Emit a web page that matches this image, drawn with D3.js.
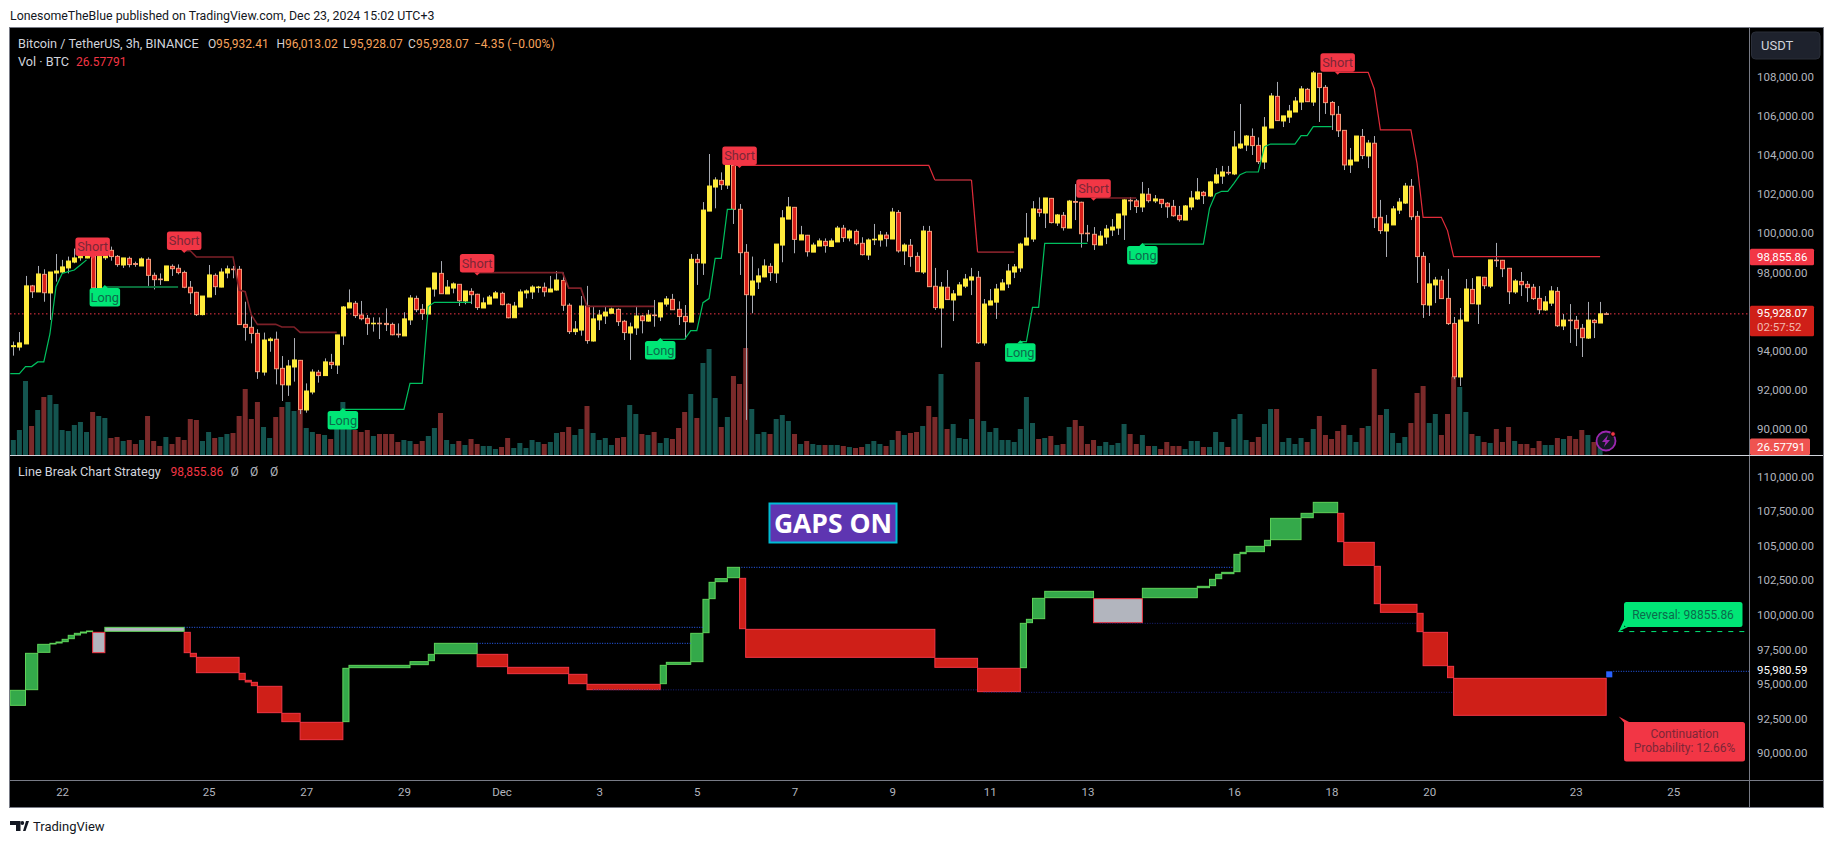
<!DOCTYPE html>
<html>
<head>
<meta charset="utf-8">
<script src="https://cdn.jsdelivr.net/npm/d3@7"></script>
<style>
body { margin: 0; background: #fff; }
svg { display: block; }
text { font-family: Roboto, sans-serif; }
</style>
</head>
<body>
<svg width="1833" height="844"></svg>
<script>
// 3h candles
var open = [
94250,94230,94390,97360,97050,97950,97000,98020,98070,98280,
98580,98800,98790,98890,97250,98800,99180,98870,98430,98770,
98500,98380,98720,97900,97710,97630,98360,98260,98050,97290,
97030,95890,96790,97900,97300,98020,98220,98210,95390,95240,
94930,92950,94560,94630,93140,92290,93210,93550,91010,91930,
92940,92770,93450,93310,94800,96230,96470,95870,95700,95430,
95450,95440,95390,94890,94800,95620,96720,96160,95920,97200,
98000,96950,97250,97440,96590,97080,96930,96230,96430,96740,
96980,96420,95730,96280,97000,97050,97290,97290,97050,97150,
97640,96370,95020,95100,96330,94540,95620,95820,95960,96160,
95550,94950,95210,95820,95560,95870,95770,96430,96670,96160,
95800,95510,98720,98530,101190,102420,102760,102520,103530,101280,
99080,96890,97560,97820,98360,98020,99450,100780,101380,99710,
99950,99090,99400,99640,99380,99610,100310,99810,100150,99540,
98940,99730,99710,99960,99760,101120,99150,99440,98870,98070,
100150,97340,96230,97290,96640,96890,97350,97660,97800,94440,
96380,96530,97150,97460,98070,98280,99450,99760,101280,101090,
101840,100580,100970,100320,101680,101640,100060,100000,99450,99860,
100220,100320,100990,101740,101710,101400,102050,101710,101790,101590,
101430,100970,100730,101400,101810,102150,101960,102630,102980,103170,
103090,104420,104570,105010,104550,103700,105440,107060,105800,106000,
106260,106770,107420,106770,108240,107520,106750,106140,105320,103550,
103750,105010,104010,104660,100870,100170,100480,101240,101600,102460,
100920,98870,96380,97410,97650,96720,95440,92700,95560,97180,
96430,97800,97350,98680,98670,98260,97050,97590,97440,97290,
96720,96130,96480,97080,95310,95610,95600,95190,94690,95600,
95460,95932.41];
var high = [
94510,95000,97870,97410,98380,98210,98070,98990,98690,98860,
99270,99030,99200,99000,98860,98940,99370,98940,98790,98860,
98600,98820,98820,98040,98000,98380,98460,98460,98140,97610,
97060,96840,98430,98000,98260,98400,98380,98380,96550,95870,
95140,94970,94730,95020,93770,93570,94690,93570,92370,93090,
93060,93650,93880,94850,96330,97180,96590,96590,95870,95750,
95750,96210,95480,95440,96010,96890,96860,96430,97250,98020,
98630,97660,97540,97440,97100,97240,96960,96760,96890,97100,
97060,96470,96540,97180,97180,97390,97360,97530,97870,98120,
98040,96470,95560,96840,97360,96330,96130,96330,96250,96210,
95620,95480,96300,95870,96130,96640,96490,96840,96950,96570,
96380,98990,98990,101650,104110,102920,103170,103550,103550,101550,
99500,98860,98260,98720,98520,99500,101240,101910,101400,100430,
99970,99570,99790,99790,99790,100430,100480,100250,100250,99850,
99790,100530,100170,100120,101350,101240,99540,99760,99080,100430,
100430,98280,97560,98170,97150,97560,97970,98280,98120,96690,
97200,97460,97710,98480,98480,99570,101090,101700,101890,101860,
101860,101040,101140,101760,102570,101670,100480,100370,100170,100480,
100780,101040,101790,101910,101810,102680,102370,102010,101810,101650,
101760,101450,101500,102220,102880,102220,102730,103390,103500,103500,
105290,106670,105080,105420,104960,106000,107230,107800,106060,106620,
107030,107590,107490,108360,108260,107640,106820,106570,105320,104420,
105030,105390,104830,105030,101760,100990,101450,101860,102630,102830,
101190,99090,98530,97820,97870,98230,95770,96230,97710,97760,
97820,97820,98690,99560,98690,98280,97710,98070,97610,97460,
97350,96840,97350,97300,95920,96430,95820,95410,96540,95670,
96540,96013.02];
var low = [
93790,94050,94390,96740,97050,96550,95620,97580,98000,98000,
98520,98650,98770,97250,97250,98690,98650,98340,98280,98310,
98340,98380,97360,97180,97410,97630,97870,97950,97240,96430,
95820,95850,96790,96890,97290,97750,97750,95380,94560,94420,
92600,92770,93990,92320,91470,91730,92460,90800,90870,91810,
92410,92770,93110,92850,94340,96230,95720,95600,94850,95020,
94640,95050,94830,94710,94800,95360,96020,95620,95920,96810,
96950,96950,96980,96330,96420,96430,96130,96230,96430,96740,
96370,95700,95730,96280,96720,96690,97010,96810,97050,97120,
96080,94900,94850,94810,94400,94510,95100,95410,95960,95310,
94590,93570,94850,94930,95530,95270,95560,96300,96130,95360,
94630,95510,97410,97920,101190,101330,102270,102320,100530,97920,
90500,95960,97200,97800,97610,97510,98570,100780,99030,99710,
98860,99090,99400,99060,99350,99610,99610,99640,99440,98920,
98690,99450,99370,99370,99760,99060,98430,98340,98070,97970,
97320,96130,94200,96640,95560,96890,97250,96890,94390,94300,
96380,95670,97150,97250,97760,98070,99450,99610,100900,100320,
100560,100430,100190,100320,100730,99320,99620,99200,99450,99500,
99910,99970,99710,101240,101090,101140,101620,101600,101350,100840,
100900,100650,100730,101240,101760,101550,101910,102580,102580,103030,
103030,104370,104260,104060,103600,103340,105440,105800,105490,105700,
106260,106360,106770,106570,105750,106160,105340,104980,103290,103140,
103750,103850,103390,100320,100020,98840,100480,101040,101550,100730,
97510,95720,95820,96480,96690,95360,92590,92240,95560,96430,
95410,97200,97250,98330,97810,96430,96950,96840,96540,96640,
95920,96080,96330,95260,95100,94440,94280,93720,94640,94690,
95460,95928.07];
var close = [
94300,94440,97360,97060,97970,97010,98070,98120,98330,98630,
98790,98860,98940,97250,98860,98890,98860,98450,98790,98450,
98460,98740,97900,97680,97680,98380,98240,98040,97290,97010,
95890,96840,97920,97320,98070,98230,98200,95380,95240,94930,
92970,94590,94640,93120,92300,93260,93570,91030,91980,92950,
92770,93470,93330,94850,96280,96490,95840,95680,95430,95450,
95430,95380,94860,94870,95670,96740,96140,95940,97250,98020,
96960,97300,97460,96600,97100,96910,96250,96490,96790,97000,
96400,95730,96330,97050,97100,97300,97300,97060,97200,97660,
96370,95020,95150,96330,94560,95670,95870,96020,96180,95530,
94970,95260,95820,95580,95870,95840,96490,96690,96140,95790,
95530,98720,98550,101240,102470,102780,102540,103550,101280,99060,
96910,97610,97870,98380,98040,99500,100840,101400,99740,99970,
99110,99450,99660,99420,99660,100320,99830,100170,99520,98960,
99710,99750,99960,99780,101140,99150,99450,98860,98090,100170,
97320,96250,97300,96660,96950,97410,97710,97820,94450,96430,
96590,97200,97510,98120,98330,99500,99810,101300,101110,101860,
100600,100990,100340,101700,101640,100030,100040,99470,99910,100270,
100370,101040,101760,101710,101420,102060,101720,101810,101570,101410,
100950,100750,101450,101860,102170,101980,102680,103040,103190,103140,
104470,104620,105030,104540,103720,105490,107080,105820,106060,106310,
106820,107440,106790,108260,107510,106740,106120,105300,103550,103800,
105030,104030,104670,100850,100190,100530,101300,101650,102470,100900,
98860,96400,97460,97660,96710,95430,92710,95610,97200,96450,
97820,97370,98690,98660,98240,97060,97610,97420,97270,96710,
96140,96540,97100,95320,95610,95590,95170,94710,95610,95480,
95930,95928.07];
var volume = [
1125,1875,5550,2175,3375,4350,4500,3825,1875,1800,
2250,2475,1725,3225,2925,2775,1275,1350,1050,1125,
825,1125,2925,1050,675,1350,825,1350,1125,2700,
2625,1050,1725,1275,1350,1575,1650,2925,4950,2700,
3975,2100,1275,2850,3600,3975,3300,3375,2025,1725,
1575,1500,1200,1950,3975,2025,1875,1725,1875,1425,
1575,1575,1575,975,1125,1050,825,1050,1425,2025,
3150,1125,825,1050,750,1200,825,675,675,450,
600,1275,525,900,525,1125,975,825,975,1650,
1725,2100,1500,1950,3675,1650,1125,1275,750,1275,
1350,3750,3075,1575,1500,1725,900,1275,1200,2025,
3225,4575,2775,6900,7950,4275,2100,2850,5925,5325,
8025,3450,1575,1725,1575,2700,3000,2550,1575,825,
1050,825,750,750,750,750,675,600,525,600,
825,1050,825,675,1125,1800,1500,1650,1725,2175,
3675,2850,6075,1950,2325,1275,1200,2700,6975,2550,
1725,2025,1125,1125,975,1950,4350,2400,1200,1275,
1425,750,825,2100,2625,2175,825,1125,675,975,
750,900,2325,1575,825,1500,675,675,450,975,
675,675,450,1050,1050,600,600,1725,975,600,
2700,3075,1125,975,1350,2325,3450,3450,975,1275,
825,1275,975,1950,2925,1500,1200,1800,2250,1500,
975,2025,2175,6450,3000,3450,1650,900,1350,2400,
4650,5175,2400,3075,1500,3075,5875,5100,3225,1575,
1425,975,900,1950,975,2100,1050,825,825,525,
1050,750,750,1275,1200,1425,1200,1875,1500,975,
1125,26.57791];

// stop lines on the price pane, [bar, price]
var longStop1 = [[-0.5,92870],[1,92870],[2,93230],[3,93230],[4,93470],[5,93470],[6,94900],[7,97320],[8,98000],[9,98090],[10,98170],[11,98430],[12,98690]];
var longStop2 = [[15,97300],[27,97300]];
var longStop3 = [[54,91040],[64,91040],[65,92370],[67,92370],[68,96300],[69,96520],[75,96520]];
var longStop4 = [[106,94630],[110,94630],[111,95070],[112,95070],[113,96500],[114,96710],[115,98770],[116,98770],[117,101280],[118,101280]];
var longStop5 = [[165,94510],[166,94510],[167,96260],[168,96260],[169,99540],[176,99540]];
var longStop6 = [[185,99500],[195,99500],[196,101330],[197,102060],[198,102200],[199,102200],[200,102610],[201,103050],[202,103190],[204,103190],[205,104490],[206,104620],[210,104620],[211,105050],[212,105050],[213,105510],[216,105510]];
var shortStop1 = [[28,99160],[29,99160],[30,98840],[36,98840],[37,97150],[38,97060],[39,95870],[40,95390],[43,95390],[44,95260],[46,95260],[47,94980],[53,94980]];
var shortStop2 = [[76,98040],[90,98040],[91,97250],[93,97250],[94,96310],[105,96310]];
var shortStop3a = [[118,103530],[150,103530],[151,102780]];
var shortStop3b = [[151,102780],[157,102780]];
var shortStop3c = [[157,102780],[158,99090]];
var shortStop3d = [[158,99090],[164,99090]];
var shortStop4 = [[177,101860],[184,101860]];
var shortStop5 = [[217,108290],[222,108290],[223,107440],[224,105340],[229,105340],[230,103630],[231,100870],[234,100870],[235,100190],[236,98855.86],[260,98855.86]];

var shortBars = [13,28,76,119,177,217];
var shortPrices = [98890,99200,98040,103550,101870,108320];
var longBars = [15,54,106,165,185];
var longPrices = [97250,90960,94540,94420,99400];

// line break boxes on the lower pane
var breakStart = [-0.5,2,4,6,7,8,9,10,11,12,13,15,28,29,30,37,38,39,40,44,47,54,55,65,68,69,76,81,91,94,106,107,111,113,114,115,117,119,120,151,158,165,166,167,169,177,185,194,196,197,198,200,201,202,205,206,211,213,217,218,223,224,230,231,235,236];
var breakEnd = [2,4,6,7,8,9,10,11,12,13,15,28,29,30,37,38,39,40,44,47,54,55,65,68,69,76,81,91,94,106,107,111,113,114,115,117,119,120,151,158,165,166,167,169,177,185,194,196,197,198,200,201,202,205,206,211,213,217,218,223,224,230,231,235,236,261];
var breakTop = [94605,97282,97932,98005,98101,98294,98584,98728,98824,98897,98800,99162,98800,97282,96992,95835,95329,95184,94895,92942,92291,96197,96413,96679,97209,98005,97209,96269,95763,95039,96413,96630,98728,101187,102417,102682,103502,102706,99017,96920,96197,99451,99741,101260,101766,101236,101983,102128,102634,102996,103140,104442,104587,105021,105455,107046,107408,108203,107408,105310,103574,100826,100175,98800,96341,95473];
var breakBottom = [93520,94653,97354,97957,98029,98125,98342,98607,98752,98849,97330,98873,97330,97041,95883,95377,95208,94943,92990,92339,91037,92339,96245,96462,96751,97257,96317,95811,95087,94653,95087,96486,96679,98776,101236,102465,102754,99065,96992,96269,94509,96245,99500,99789,101308,99500,101308,102031,102176,102682,103044,103188,104490,104635,105069,105503,107094,107456,105358,103647,100874,100247,98849,96389,95521,92797];
var breakKind = ["g","g","g","g","g","g","g","g","g","g","xr","xg","r","r","r","r","r","r","r","r","r","g","g","g","g","g","r","r","r","r","g","g","g","g","g","g","g","r","r","r","r","g","g","g","g","xr","g","g","g","g","g","g","g","g","g","g","g","g","r","r","r","r","r","r","r","r"];
var lastBreak = [95980.59,95545];

// dotted pivot levels, [from bar, to bar, price]
var pivotsBright = [[28,113,99162],[76,111,98005],[119.3,200,103502]];
var pivotsDark = [[95,158,94640],[159,236,94460],[178,230,99451]];

var lastPrice = 95928.07;
var stopPrice = 98855.86;
var breakLast = 95980.59;

var priceTicks = [90000,92000,94000,98000,100000,102000,104000,106000,108000];
var breakTicks = [90000,92500,95000,97500,100000,102500,105000,107500,110000];
var dateBars = [8,32,48,64,80,96,112,128,144,160,176,200,216,232,256,272];
var dateLabels = ["22","25","27","29","Dec","3","5","7","9","11","13","16","18","20","23","25"];

var left = 10, right = 1823, axisX = 1749, top0 = 28, mainBottom = 455, lowBottom = 780, bottom0 = 807;

var svg = d3.select("svg");

var x = d3.scaleLinear().domain([0,261]).range([13.3,1606.2]);
var y = d3.scaleLinear().domain([90000,108000]).range([429.7,78]);
var yLow = d3.scaleLinear().domain([90000,110000]).range([754,477.5]);
var yVol = d3.scaleLinear().domain([0,8025]).range([mainBottom,348]);

svg.append("rect").attr("x",left).attr("y",top0).attr("width",right-left).attr("height",bottom0-top0).attr("fill","#000");

var defs = svg.append("defs");
defs.append("clipPath").attr("id","mainClip").append("rect").attr("x",left).attr("y",top0).attr("width",axisX-left).attr("height",mainBottom-top0);
defs.append("clipPath").attr("id","lowClip").append("rect").attr("x",left).attr("y",mainBottom).attr("width",axisX-left).attr("height",lowBottom-mainBottom);

var main = svg.append("g").attr("clip-path","url(#mainClip)");
var low1 = svg.append("g").attr("clip-path","url(#lowClip)");

// volume
main.selectAll(".vol").data(volume).enter().append("rect")
    .attr("x",function(d,i){ return x(i)-2.5; })
    .attr("y",function(d){ return yVol(d); })
    .attr("width",5)
    .attr("height",function(d){ return mainBottom-yVol(d); })
    .attr("fill",function(d,i){ return close[i]>=open[i] ? "#14544f" : "#7a2a2a"; });

// last price line
main.append("line").attr("x1",left).attr("x2",axisX).attr("y1",y(lastPrice)).attr("y2",y(lastPrice))
    .attr("stroke","#f23645").attr("stroke-width",1).attr("stroke-dasharray","1.5 2.5");

// wicks
main.selectAll(".wick").data(high).enter().append("line")
    .attr("x1",function(d,i){ return Math.round(x(i))+0.5; })
    .attr("x2",function(d,i){ return Math.round(x(i))+0.5; })
    .attr("y1",function(d){ return y(d); })
    .attr("y2",function(d,i){ return y(low[i]); })
    .attr("stroke","#a8abb3").attr("stroke-width",1);

// bodies
main.selectAll(".body").data(open).enter().append("rect")
    .attr("x",function(d,i){ return Math.round(x(i))-1.5; })
    .attr("y",function(d,i){ return y(Math.max(d,close[i])); })
    .attr("width",4)
    .attr("height",function(d,i){ return Math.max(0.6,Math.abs(y(d)-y(close[i]))); })
    .attr("fill",function(d,i){ return close[i]>=d ? "#ffeb3b" : "#d9201a"; })
    .attr("stroke",function(d,i){ return close[i]>=d ? "#ffeb3b" : "#f59a78"; })
    .attr("stroke-width",1);

var stopLine = d3.line().x(function(d){ return x(d[0]); }).y(function(d){ return y(d[1]); });
function drawStop(pts,color,w) {
    main.append("path").attr("d",stopLine(pts)).attr("fill","none").attr("stroke",color).attr("stroke-width",w);
}
var greenOn = "#00c05f", greenDim = "#0b6b3a", redOn = "#e22c3a", redDim = "#7d2028";
drawStop(longStop1,greenOn,1.2);
drawStop(longStop2,greenDim,2);
drawStop(longStop3,greenOn,1.2);
drawStop(longStop4,greenOn,1.2);
drawStop(longStop5,greenOn,1.2);
drawStop(longStop6,greenOn,1.2);
drawStop(shortStop1,redDim,1.6);
drawStop(shortStop2,redDim,1.8);
drawStop(shortStop3a,redOn,1.2);
drawStop(shortStop3b,redDim,1.8);
drawStop(shortStop3c,redOn,1.2);
drawStop(shortStop3d,redDim,1.8);
drawStop(shortStop4,redDim,1.6);
drawStop(shortStop5,redOn,1.2);

// signal tags
function tag(g,cx,edge,up,label,fill,txt) {
    var w = label=="Short" ? 34.5 : 30.5, h = 18.5;
    var ty = up ? edge : edge-h;
    g.append("path")
        .attr("d", up ? "M"+(cx-3)+" "+edge+"l3 -3l3 3z" : "M"+(cx-3)+" "+edge+"l3 3l3 -3z")
        .attr("fill",fill);
    g.append("rect").attr("x",cx-w/2).attr("y",ty).attr("width",w).attr("height",h).attr("rx",2.5).attr("fill",fill);
    g.append("text").attr("x",cx).attr("y",ty+h/2+4.4).attr("text-anchor","middle").attr("font-size",12.8).attr("fill",txt).text(label);
}
shortBars.forEach(function(b,i){ tag(main,x(b),y(shortPrices[i]),false,"Short","#f23645","#7c2637"); });
longBars.forEach(function(b,i){ tag(main,x(b),y(longPrices[i]),true,"Long","#00e676","#0c6b4c"); });

// line break boxes
var fills = {g:"#34a94a",r:"#cf1f18",xr:"#b2b5be",xg:"#b2b5be"};
var edges = {g:"#5fd35a",r:"#f23645",xr:"#f23645",xg:"#5fd35a"};
low1.selectAll(".box").data(breakStart).enter().append("rect")
    .attr("x",function(d){ return x(d); })
    .attr("y",function(d,i){ return yLow(breakTop[i]); })
    .attr("width",function(d,i){ return x(breakEnd[i])-x(d); })
    .attr("height",function(d,i){ return yLow(breakBottom[i])-yLow(breakTop[i]); })
    .attr("fill",function(d,i){ return fills[breakKind[i]]; })
    .attr("stroke",function(d,i){ return edges[breakKind[i]]; })
    .attr("stroke-width",1);

low1.append("rect").attr("x",x(261)).attr("y",yLow(lastBreak[0])).attr("width",x(262)-x(261)).attr("height",yLow(lastBreak[1])-yLow(lastBreak[0])).attr("fill","#2962ff");

low1.selectAll(".pb").data(pivotsBright).enter().append("line")
    .attr("x1",function(d){ return x(d[0]); }).attr("x2",function(d){ return x(d[1]); })
    .attr("y1",function(d){ return yLow(d[2]); }).attr("y2",function(d){ return yLow(d[2]); })
    .attr("stroke","#2962ff").attr("stroke-dasharray","1 1.5");
low1.selectAll(".pd").data(pivotsDark).enter().append("line")
    .attr("x1",function(d){ return x(d[0]); }).attr("x2",function(d){ return x(d[1]); })
    .attr("y1",function(d){ return yLow(d[2]); }).attr("y2",function(d){ return yLow(d[2]); })
    .attr("stroke","#1a237e").attr("stroke-dasharray","1 1.5");
low1.append("line").attr("x1",x(262)+1).attr("x2",axisX).attr("y1",yLow(breakLast)).attr("y2",yLow(breakLast))
    .attr("stroke","#2962ff").attr("stroke-dasharray","1 1.5");
low1.append("line").attr("x1",x(262)+6).attr("x2",1746).attr("y1",yLow(stopPrice)).attr("y2",yLow(stopPrice))
    .attr("stroke","#00e676").attr("stroke-dasharray","5 6");

// GAPS ON
svg.append("rect").attr("x",769.5).attr("y",503.5).attr("width",127).attr("height",39).attr("fill","#5e35b1").attr("stroke","#00bcd4").attr("stroke-width",2);
svg.append("text").attr("x",833).attr("y",532.5).attr("text-anchor","middle").attr("font-size",26.5).attr("font-weight",700)
    .style("font-family","'Open Sans',sans-serif").attr("fill","#fff").text("GAPS ON");

// reversal / continuation callouts
svg.append("path").attr("d","M1618.7 "+yLow(stopPrice)+"L1624 620V627L1628 627z").attr("fill","#00e676");
svg.append("rect").attr("x",1624).attr("y",602).attr("width",118.5).attr("height",25).attr("rx",2.5).attr("fill","#00e676");
svg.append("text").attr("x",1683).attr("y",619).attr("text-anchor","middle").attr("font-size",12).attr("fill","#0c6b4c").text("Reversal: 98855.86");

svg.append("path").attr("d","M1618.7 716.5L1624 722.5V730L1630 722.5z").attr("fill","#f23645");
svg.append("rect").attr("x",1624).attr("y",722).attr("width",121).attr("height",39.5).attr("rx",2.5).attr("fill","#f23645");
svg.append("text").attr("x",1684.5).attr("y",738).attr("text-anchor","middle").attr("font-size",12).attr("fill","#7c2637").text("Continuation");
svg.append("text").attr("x",1684.5).attr("y",752).attr("text-anchor","middle").attr("font-size",12).attr("fill","#7c2637").text("Probability: 12.66%");

// frame lines
var frame = "#787b86";
svg.append("rect").attr("x",left-0.5).attr("y",top0-0.5).attr("width",right-left+1).attr("height",bottom0-top0+1).attr("fill","none").attr("stroke",frame);
svg.append("line").attr("x1",axisX+0.5).attr("x2",axisX+0.5).attr("y1",top0).attr("y2",bottom0).attr("stroke",frame);
svg.append("line").attr("x1",left).attr("x2",right).attr("y1",mainBottom+0.5).attr("y2",mainBottom+0.5).attr("stroke","#d1d4dc");
svg.append("line").attr("x1",left).attr("x2",right).attr("y1",lowBottom+0.5).attr("y2",lowBottom+0.5).attr("stroke",frame);

// axes
var fmt = d3.format(",.2f");
function styleAxis(g) {
    g.select(".domain").remove();
    g.selectAll(".tick line").remove();
    g.selectAll("text").attr("fill","#b2b5be").attr("font-size",11.5).style("font-family","Roboto, sans-serif");
}
svg.append("g").attr("transform","translate("+axisX+",-1)")
    .call(d3.axisRight(y).tickValues(priceTicks).tickFormat(fmt).tickSize(0).tickPadding(8)).call(styleAxis);
svg.append("g").attr("transform","translate("+axisX+",-1)")
    .call(d3.axisRight(yLow).tickValues(breakTicks).tickFormat(fmt).tickSize(0).tickPadding(8)).call(styleAxis);
svg.append("g").attr("transform","translate(0,"+lowBottom+")")
    .call(d3.axisBottom(x).tickValues(dateBars).tickFormat(function(d,i){ return dateLabels[i]; }).tickSize(0).tickPadding(8)).call(styleAxis);

// price scale badges
function badge(x0,y0,w,h,fill) {
    svg.append("rect").attr("x",x0).attr("y",y0).attr("width",w).attr("height",h).attr("rx",1.5).attr("fill",fill);
}
function axisText(tx,ty,s,color) {
    svg.append("text").attr("x",tx).attr("y",ty).attr("font-size",11.5).attr("fill",color).text(s);
}
badge(1750,y(stopPrice)-8,64,16.5,"#f23645");
axisText(1757,y(stopPrice)+4,fmt(stopPrice),"#fff");
badge(1750,y(lastPrice)-8,64,30.5,"#cf1f18");
axisText(1757,y(lastPrice)+3,fmt(lastPrice),"#fff");
axisText(1757,y(lastPrice)+17.5,"02:57:52","#f2b8ae");
badge(1750,438.5,60,16.5,"#ef5350");
axisText(1757,451,"26.57791","#fff");

svg.append("rect").attr("x",1751).attr("y",yLow(breakLast)-7.5).attr("width",66).attr("height",14).attr("fill","#000");
axisText(1757,yLow(breakLast)+3,fmt(breakLast),"#fff");

// currency button
svg.append("rect").attr("x",1751.5).attr("y",32).attr("width",68.5).attr("height",27).attr("rx",4).attr("fill","#1e222d").attr("stroke","#2a2e39");
svg.append("text").attr("x",1761).attr("y",50).attr("font-size",13).attr("fill","#d1d4dc").text("USDT");

// legend
var grey = "#d1d4dc", orange = "#f7a35c", red = "#f23645";
function leg(tx,ty,s,color,size) {
    svg.append("text").attr("x",tx).attr("y",ty).attr("font-size",size || 12).attr("fill",color).text(s);
}
leg(18,48,"Bitcoin / TetherUS, 3h, BINANCE",grey,12.7);
leg(208,48,"O",grey); leg(216,48,"95,932.41",orange);
leg(276.5,48,"H",grey); leg(285,48,"96,013.02",orange);
leg(343,48,"L",grey); leg(350,48,"95,928.07",orange);
leg(408,48,"C",grey); leg(416,48,"95,928.07",orange);
leg(474,48,"\u22124.35 (\u22120.00%)",orange);
leg(18,66,"Vol \u00b7 BTC",grey,12.7);
leg(76,66,"26.57791",red);
leg(18,476,"Line Break Chart Strategy",grey,12.7);
leg(170.5,476,"98,855.86",red);
leg(230.5,476,"\u00d8","#b2b5be"); leg(250,476,"\u00d8","#b2b5be"); leg(270,476,"\u00d8","#b2b5be");

// alert bolt
svg.append("circle").attr("cx",1606).attr("cy",441).attr("r",9.5).attr("fill","#131722").attr("stroke","#9c27b0").attr("stroke-width",1.8);
svg.append("path").attr("d","M1608 435l-6 7h3.5l-1.5 5l6 -7h-3.5z").attr("fill","#9c27b0");
svg.append("circle").attr("cx",1613).attr("cy",434).attr("r",2.4).attr("fill","#f23645").attr("stroke","#000");

// header, footer
svg.append("text").attr("x",10).attr("y",20).attr("font-size",12.35).attr("fill","#131722").text("LonesomeTheBlue published on TradingView.com, Dec 23, 2024 15:02 UTC+3");
svg.append("path").attr("d","M10 821h10.5v10h-4.5v-6h-6z").attr("fill","#131722");
svg.append("circle").attr("cx",22.3).attr("cy",823).attr("r",1.9).attr("fill","#131722");
svg.append("path").attr("d","M23 831l3-10h3l-3.5 10z").attr("fill","#131722");
svg.append("text").attr("x",33).attr("y",831).attr("font-size",13).attr("fill","#131722").text("TradingView");
</script>
</body>
</html>
